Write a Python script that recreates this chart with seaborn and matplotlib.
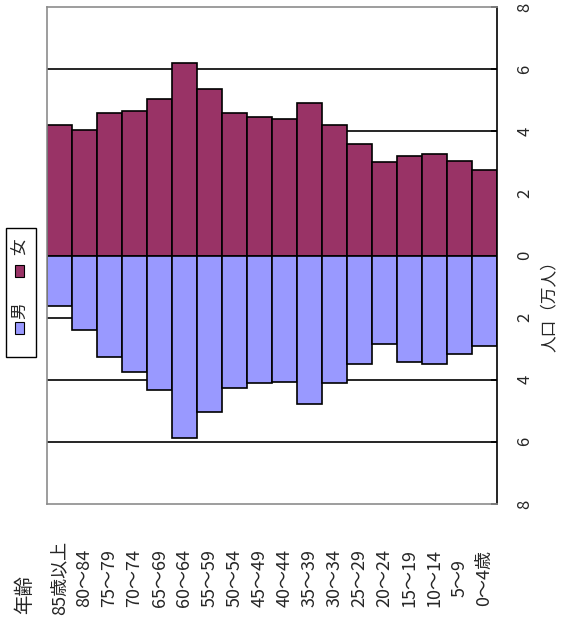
import matplotlib
matplotlib.use("Agg")
import matplotlib.pyplot as plt
import matplotlib.patches as mpatches
import seaborn as sns
import pandas as pd

# Age groups, oldest first (left to right on the chart)
age_groups = ["85歳以上", "80～84", "75～79", "70～74", "65～69", "60～64",
              "55～59", "50～54", "45～49", "40～44", "35～39", "30～34",
              "25～29", "20～24", "15～19", "10～14", "5～9", "0～4歳"]

# Population in units of 10,000 people
female = [4.19, 4.05, 4.59, 4.65, 5.03, 6.20, 5.35, 4.58, 4.46, 4.39,
          4.91, 4.19, 3.60, 3.01, 3.21, 3.28, 3.03, 2.74]
male = [1.61, 2.40, 3.28, 3.74, 4.32, 5.88, 5.03, 4.27, 4.09, 4.06,
        4.79, 4.09, 3.50, 2.85, 3.42, 3.50, 3.17, 2.90]

value_ticks = [-8, -6, -4, -2, 0, 2, 4, 6, 8]

female_color = "#993366"
male_color = "#9999FF"

sns.set_theme(style="white")
plt.rcParams["font.family"] = ["Noto Sans CJK JP", "DejaVu Sans"]

df = pd.DataFrame({"age": age_groups, "female": female,
                   "male": [-v for v in male]})

fig = plt.figure(figsize=(5.62, 6.43), dpi=100)
ax = fig.add_axes([47 / 562, 139 / 643, 450 / 562, 497 / 643])

# Horizontal reference lines behind the bars
for v in value_ticks[1:-1]:
    if v != 0:
        ax.axhline(v, color="black", lw=1.2, zorder=0)

sns.barplot(data=df, x="age", y="female", color=female_color, saturation=1,
            width=1.0, edgecolor="black", linewidth=1.2, ax=ax, zorder=2)
sns.barplot(data=df, x="age", y="male", color=male_color, saturation=1,
            width=1.0, edgecolor="black", linewidth=1.2, ax=ax, zorder=2)

ax.set_xlim(-0.5, len(age_groups) - 0.5)
ax.set_ylim(-8, 8)
ax.set_xlabel("")
ax.set_ylabel("")

# Value axis on the right, labels turned sideways
ax.yaxis.tick_right()
ax.set_yticks(value_ticks)
ax.set_yticklabels([str(abs(v)) for v in value_ticks], rotation=90,
                   va="center", ha="left", fontsize=12)
ax.tick_params(axis="y", direction="in", length=4, width=1.2, color="black",
               pad=14, right=True)

# Age labels under the plot, turned sideways
ax.set_xticks(range(len(age_groups)))
ax.set_xticklabels(age_groups, rotation=90, va="center", ha="center",
                   fontsize=13)
ax.tick_params(axis="x", length=0, pad=53)

for side in ["left", "top", "bottom"]:
    ax.spines[side].set_color("#8c8c8c")
    ax.spines[side].set_linewidth(1.2)
ax.spines["right"].set_color("black")
ax.spines["right"].set_linewidth(1.2)
ax.grid(False)

# Axis titles
fig.text(549 / 562, 1 - 302 / 643, "人口（万人）", rotation=90,
         ha="center", va="center", fontsize=12)
fig.text(25 / 562, 1 - 594 / 643, "年齢", rotation=90,
         ha="center", va="center", fontsize=14)

# Legend box with sideways entries
fw, fh = 562, 643
box = mpatches.Rectangle((6 / fw, 1 - 357 / fh), 30 / fw, 129 / fh,
                         transform=fig.transFigure, facecolor="white",
                         edgecolor="black", lw=1.0)
fig.patches.append(box)
for name, color, sq_top, txt_y in [("男", male_color, 322, 311),
                                   ("女", female_color, 265, 247)]:
    sq = mpatches.Rectangle((15 / fw, 1 - (sq_top + 12) / fh), 9 / fw, 12 / fh,
                            transform=fig.transFigure, facecolor=color,
                            edgecolor="black", lw=0.8)
    fig.patches.append(sq)
    fig.text(20 / fw, 1 - txt_y / fh, name, rotation=90, ha="center",
             va="center", fontsize=12)

fig.savefig("out.png", dpi=100)
